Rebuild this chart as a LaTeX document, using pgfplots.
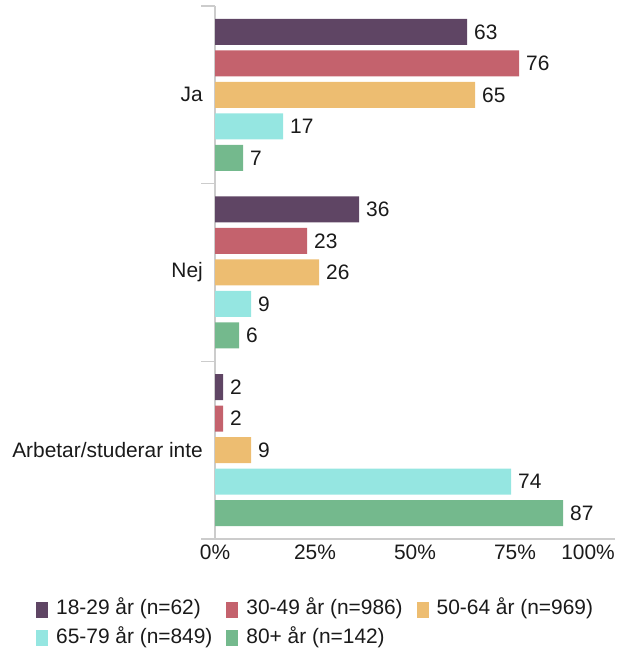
\documentclass[border=0pt]{standalone}
\usepackage{pgfplots}
\pgfplotsset{compat=1.18}
\usepackage{fontspec}
\setmainfont{Liberation Sans}
\definecolor{c1}{HTML}{5F4564}
\definecolor{c2}{HTML}{C4626D}
\definecolor{c3}{HTML}{EDBD71}
\definecolor{c4}{HTML}{95E6E1}
\definecolor{c5}{HTML}{74B98D}
\definecolor{axisgray}{HTML}{CCCCCC}
\definecolor{txt}{HTML}{1A1A1A}
\begin{document}
\fontsize{20.9bp}{24bp}\selectfont
\begin{tikzpicture}[x=1bp,y=1bp]
\begin{axis}[
  at={(215bp,111bp)}, anchor=south west,
  scale only axis, width=400bp, height=533bp,
  xbar, bar width=26bp,
  xmin=0, xmax=100, ymin=-0.5, ymax=2.5,
  axis x line*=bottom, axis y line*=left,
  axis line style={draw=axisgray, line width=1.5bp},
  /pgf/number format/assume math mode=true,
  xtick={0,25,50,75}, xticklabels={0\%,25\%,50\%,75\%},
  extra x ticks={100}, extra x tick labels={100\%},
  extra x tick style={xticklabel style={anchor=north east, xshift=0bp}},
  xticklabel style={inner sep=0pt, yshift=-6bp, text=txt},
  ytick={0,1,2}, yticklabels={Arbetar/studerar inte, Nej, Ja},
  yticklabel style={inner xsep=0pt, xshift=-12bp, text=txt},
  major tick length=0pt,
  extra y ticks={-0.5,0.5,1.5,2.5}, extra y tick labels={},
  extra y tick style={major tick length=14bp, tick align=outside, tick style={draw=axisgray, line width=1.5bp}},
  nodes near coords,
  every node near coord/.append style={inner sep=0pt, xshift=7bp, text=txt, anchor=west},
  legend columns=3,
  legend cell align=left,
  legend image code/.code={\fill[#1] (0bp,-8bp) rectangle (12bp,8bp);},
  legend style={at={(-0.4475,-0.114)}, anchor=north west, draw=none, fill=none,
    inner sep=0pt, row sep=9bp,
    nodes={inner sep=0pt, text height=15bp, text depth=4.5bp, text=txt},
    /tikz/every odd column/.append style={column sep=8bp},
    /tikz/every even column/.append style={column sep=14bp}},
]
\addplot[fill=c1, draw=none, bar shift=63bp] coordinates {(63,2) (36,1) (2,0)};
\addplot[fill=c2, draw=none, bar shift=31.5bp] coordinates {(76,2) (23,1) (2,0)};
\addplot[fill=c3, draw=none, bar shift=0bp] coordinates {(65,2) (26,1) (9,0)};
\addplot[fill=c4, draw=none, bar shift=-31.5bp] coordinates {(17,2) (9,1) (74,0)};
\addplot[fill=c5, draw=none, bar shift=-63bp] coordinates {(7,2) (6,1) (87,0)};
\legend{18-29 år (n=62), 30-49 år (n=986), 50-64 år (n=969), 65-79 år (n=849), 80+ år (n=142)}
\end{axis}
\pgfresetboundingbox
\path (0,0) rectangle (620,650);
\end{tikzpicture}
\end{document}
